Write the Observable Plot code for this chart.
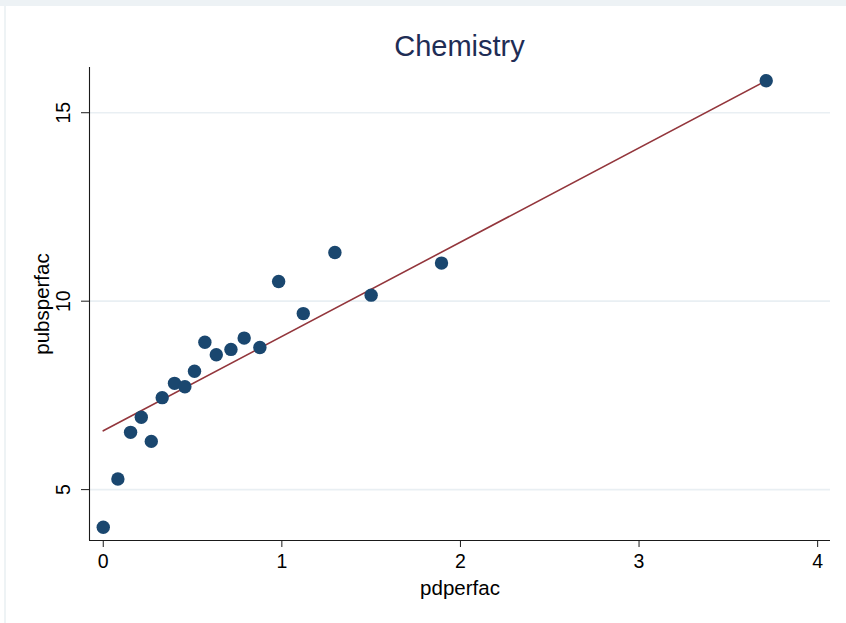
<!DOCTYPE html>
<html>
<head>
<meta charset="utf-8">
<script src="https://cdn.jsdelivr.net/npm/d3@7"></script>
<script src="https://cdn.jsdelivr.net/npm/@observablehq/plot@0.6"></script>
<style>
  html, body { margin: 0; padding: 0; background: #ffffff; }
  #wrap { position: relative; width: 846px; height: 623px; overflow: hidden; font-family: "Liberation Sans", Arial, Helvetica, sans-serif; }
  #stripTop { position: absolute; left: 0; top: 0; width: 846px; height: 6px; background: #edf2f5; }
  #stripLeft { position: absolute; left: 4px; top: 6px; width: 2px; height: 617px; background: #eef3f5; }
  #title { position: absolute; left: 89px; width: 741px; top: 32px; text-align: center; font-size: 29px; line-height: 29px; color: #1f2d55; }
  #chart { position: absolute; left: 0; top: 60px; }
</style>
</head>
<body>
<div id="wrap">
  <div id="stripTop"></div>
  <div id="stripLeft"></div>
  <div id="title">Chemistry</div>
  <div id="chart"></div>
</div>
<script>
const pdperfac   = [0, 0.082, 0.153, 0.213, 0.269, 0.330, 0.399, 0.457, 0.511, 0.569, 0.633, 0.715, 0.789, 0.877, 0.982, 1.120, 1.297, 1.500, 1.894, 3.712];
const pubsperfac = [4.00, 5.28, 6.52, 6.92, 6.28, 7.44, 7.82, 7.73, 8.14, 8.91, 8.58, 8.72, 9.02, 8.77, 10.52, 9.67, 11.29, 10.16, 11.01, 15.85];
// fitted line (as drawn in the reference): intercept and slope
const fitIntercept = 6.56;
const fitSlope = 2.503;
const xTicks = [0, 1, 2, 3, 4];
const yTicks = [5, 10, 15];
const xTitle = "pdperfac";
const yTitle = "pubsperfac";

const data = pdperfac.map((x, i) => ({x, y: pubsperfac[i]}));
const fitX = d3.extent(pdperfac);
const fitLine = fitX.map(x => ({x, y: fitIntercept + fitSlope * x}));
const xDomain = [-0.077, 4.072];
const yDomain = [3.65, 16.2];
const font = '"Liberation Sans", Arial, Helvetica, sans-serif';

const chart = Plot.plot({
  width: 846,
  height: 563,
  marginTop: 7,
  marginBottom: 83,
  marginLeft: 89,
  marginRight: 16,
  style: {fontFamily: font, color: "#000", background: "transparent", overflow: "visible"},
  x: {domain: xDomain, ticks: xTicks},
  y: {domain: yDomain, ticks: yTicks},
  marks: [
    Plot.gridY(yTicks, {stroke: "#e9eff3", strokeOpacity: 1, strokeWidth: 1.6}),
    Plot.ruleX([xDomain[0]], {stroke: "#1a1a1a", strokeWidth: 1.1}),
    Plot.ruleY([yDomain[0]], {stroke: "#1a1a1a", strokeWidth: 1.1}),
    Plot.axisX(xTicks, {tickSize: 7, tickPadding: 7, fontSize: 19.5, tickFormat: d => String(d), label: null, stroke: "#1a1a1a", fill: "#000"}),
    Plot.axisY(yTicks, {tickSize: 8, tickPadding: 12, tickRotate: -90, textAnchor: "middle", lineAnchor: "bottom", fontSize: 19.5, tickFormat: d => String(d), label: null, stroke: "#1a1a1a", fill: "#000"}),
    Plot.text([xTitle], {frameAnchor: "bottom", lineAnchor: "bottom", dy: 54, fontSize: 20.5, fill: "#000", text: d => d}),
    Plot.text([yTitle], {frameAnchor: "left", lineAnchor: "bottom", textAnchor: "middle", rotate: -90, dx: -41, fontSize: 20.5, fill: "#000", text: d => d}),
    Plot.line(fitLine, {x: "x", y: "y", stroke: "#93363c", strokeWidth: 1.6}),
    Plot.dot(data, {x: "x", y: "y", r: 6.7, fill: "#1a476f", stroke: "none"})
  ]
});
document.getElementById("chart").appendChild(chart);
</script>
</body>
</html>
